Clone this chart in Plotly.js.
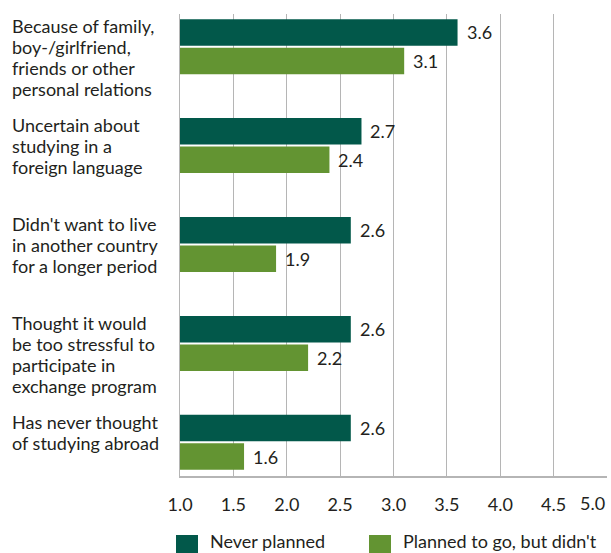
<!DOCTYPE html>
<html>
<head>
<meta charset="utf-8">
<script src="https://cdn.plot.ly/plotly-3.0.1.min.js"></script>
<style>html,body{margin:0;padding:0;background:#fff;}#chart{width:611px;height:553px;}</style>
</head>
<body>
<div id="chart"></div>
<script>
const categories = [
  "Because of family,<br>boy-/girlfriend,<br>friends or other<br>personal relations",
  "Uncertain about<br>studying in a<br>foreign language",
  "Didn't want to live<br>in another country<br>for a longer period",
  "Thought it would<br>be too stressful to<br>participate in<br>exchange program",
  "Has never thought<br>of studying abroad"
];
const seriesNames = ["Never planned", "Planned to go, but didn't"];
const neverPlanned = [3.6, 2.7, 2.6, 2.6, 2.6];
const plannedButDidnt = [3.1, 2.4, 1.9, 2.2, 1.6];
const tickVals = [1.0, 1.5, 2.0, 2.5, 3.0, 3.5, 4.0, 4.5, 5.0];
const tickLabels = ["1.0", "1.5", "2.0", "2.5", "3.0", "3.5", "4.0", "4.5", "5.0"];

const colors = ["#02584a", "#639432"];
const textColor = "#231f20";
const fontFam = "Lato, 'Liberation Sans', sans-serif";
const fs = 18;
const lineStep = 21;

const traces = [
  {type: 'bar', orientation: 'h', name: seriesNames[0], y: categories, x: neverPlanned,
   marker: {color: colors[0]}, showlegend: false, hoverinfo: 'x'},
  {type: 'bar', orientation: 'h', name: seriesNames[1], y: categories, x: plannedButDidnt,
   marker: {color: colors[1]}, showlegend: false, hoverinfo: 'x'}
];

const annotations = [];
categories.forEach((c, i) => {
  c.split('<br>').forEach((line, k) => {
    annotations.push({
      xref: 'paper', yref: 'y', x: -0.398, y: c, xanchor: 'left', yanchor: 'middle',
      yshift: 20.5 - k * lineStep, text: line, showarrow: false,
      font: {family: fontFam, size: fs, color: textColor}
    });
  });
  annotations.push({
    xref: 'x', yref: 'y', x: neverPlanned[i], y: c, xanchor: 'left', yanchor: 'middle',
    xshift: 7, yshift: 14.5, text: neverPlanned[i].toFixed(1), showarrow: false,
    font: {family: fontFam, size: fs, color: textColor}
  });
  annotations.push({
    xref: 'x', yref: 'y', x: plannedButDidnt[i], y: c, xanchor: 'left', yanchor: 'middle',
    xshift: 7, yshift: -14.5, text: plannedButDidnt[i].toFixed(1), showarrow: false,
    font: {family: fontFam, size: fs, color: textColor}
  });
});
// last tick label, kept inside the page edge
annotations.push({
  xref: 'x', yref: 'paper', x: tickVals[tickVals.length - 1], y: 0, yshift: -27, xanchor: 'right', yanchor: 'middle',
  text: tickLabels[tickLabels.length - 1], showarrow: false, font: {family: fontFam, size: fs, color: textColor}
});

// legend (custom, large swatches)
const legendX = [[-0.0094, 0.0422, 0.0656], [0.4426, 0.4941, 0.517]];
const shapes = [];
seriesNames.forEach((n, k) => {
  shapes.push({type: 'rect', xref: 'paper', yref: 'paper', x0: legendX[k][0], x1: legendX[k][1],
    y0: -0.1732, y1: -0.1277, fillcolor: colors[k], line: {width: 0}});
  annotations.push({xref: 'paper', yref: 'paper', x: legendX[k][2], y: -0.147, yshift: 3, xanchor: 'left', yanchor: 'middle',
    text: n, showarrow: false, font: {family: fontFam, size: fs, color: textColor}});
});

const layout = {
  width: 611, height: 553,
  margin: {l: 180, r: 4, t: 14, b: 77},
  paper_bgcolor: '#fff', plot_bgcolor: '#fff',
  barmode: 'group', bargap: 0.424, bargroupgap: 0.07,
  showlegend: false,
  font: {family: fontFam, size: fs, color: textColor},
  xaxis: {
    range: [1, 5], tickvals: tickVals,
    ticktext: tickLabels.map((t, i) => i === tickLabels.length - 1 ? '' : t),
    showgrid: true, gridcolor: '#b5b5b5', gridwidth: 1.2,
    showline: true, linecolor: '#b5b5b5', linewidth: 1.5,
    zeroline: false, ticks: '', ticklen: 0, ticklabelstandoff: 12,
    tickfont: {family: fontFam, size: fs, color: textColor}
  },
  yaxis: {
    type: 'category', range: [4.34, -0.33],
    showticklabels: false, showgrid: false, zeroline: false,
    showline: true, linecolor: '#b5b5b5', linewidth: 1.5, ticks: ''
  },
  annotations: annotations,
  shapes: shapes
};

Plotly.newPlot('chart', traces, layout, {displayModeBar: false, staticPlot: true});
</script>
</body>
</html>
